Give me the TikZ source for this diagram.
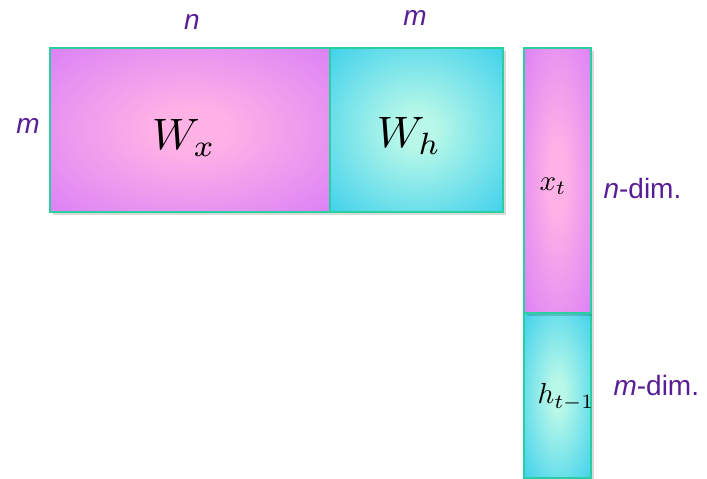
\documentclass[tikz,border=0pt]{standalone}
\usepackage{fontspec}
\setsansfont{Liberation Sans}
\definecolor{dimtext}{RGB}{88,30,150}
\definecolor{rim}{RGB}{40,208,160}
\definecolor{violetedge}{RGB}{200,102,255}
\definecolor{pinkcore}{RGB}{255,178,230}
\definecolor{cyanedge}{RGB}{0,188,238}
\definecolor{mintcore}{RGB}{184,248,232}
\pgfdeclareradialshading{pinkglow}{\pgfpointorigin}{color(0bp)=(pinkcore); color(6bp)=(pinkcore); color(52bp)=(violetedge); color(70bp)=(violetedge)}
\pgfdeclareradialshading{cyanglow}{\pgfpointorigin}{color(0bp)=(mintcore); color(5bp)=(mintcore); color(52bp)=(cyanedge); color(70bp)=(cyanedge)}
\tikzset{
  dimlabel/.style={text=dimtext, font=\sffamily\fontsize{28}{28}\selectfont},
  pinkblock/.style={shading=pinkglow, draw=rim, line width=1.5pt},
  cyanblock/.style={shading=cyanglow, draw=rim, line width=1.5pt},
  softshadow/.style={fill=black, opacity=0.15},
  bigmath/.style={scale=4.4},
  smallmath/.style={scale=2.9},
}
\begin{document}
\begin{tikzpicture}[x=1pt, y=-1pt]
\useasboundingbox (0,0) rectangle (707,479);

% Weight matrix [W_x | W_h]
\fill[softshadow] (53,51) rectangle (506,215);
\shadedraw[pinkblock] (50,48) rectangle (330,212);
\shadedraw[cyanblock] (330,48) rectangle (503,212);
\node[bigmath] (wx) at (184,138) {$W_x$};
\node[bigmath] (wh) at (409,136) {$W_h$};

% Sizes of the matrix
\node[dimlabel] (coln) at (192,22) {\itshape n};
\node[dimlabel] (colm) at (415,18) {\itshape m};
\node[dimlabel] (rowm) at (28,126) {\itshape m};

% Stacked input vector [x_t ; h_{t-1}]
\fill[softshadow] (527,316) rectangle (594,479);
\shadedraw[cyanblock] (524,313) rectangle (591,478);
\fill[softshadow] (527,51) rectangle (594,316);
\shadedraw[pinkblock] (524,48) rectangle (591,313);
\node[smallmath] (xt) at (553,186) {$x_t$};
\node[smallmath] (hprev) at (566,397) {$h_{t-1}$};

% Sizes of the vector parts
\node[dimlabel, anchor=west] (ndim) at (600,188) {{\itshape n}-dim.};
\node[dimlabel, anchor=west] (mdim) at (610,385) {{\itshape m}-dim.};
\end{tikzpicture}
\end{document}
